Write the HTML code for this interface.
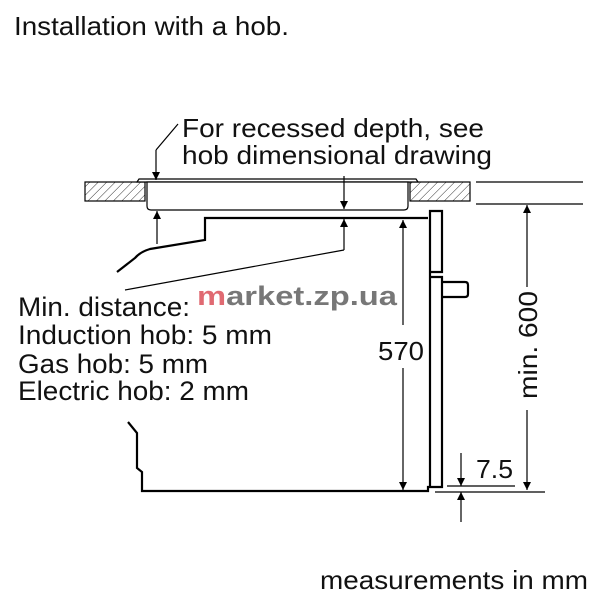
<!DOCTYPE html>
<html><head><style>
html,body{margin:0;padding:0;background:#fff;}
svg{display:block;}
text{font-family:"Liberation Sans",Arial,sans-serif;fill:#111;}
</style></head><body>
<svg width="600" height="600" viewBox="0 0 600 600" xmlns="http://www.w3.org/2000/svg">
<defs>
<pattern id="h" patternUnits="userSpaceOnUse" width="6" height="6" patternTransform="rotate(45)">
<line x1="0" y1="0" x2="0" y2="6" stroke="#333" stroke-width="1"/>
</pattern>
<marker id="a" viewBox="0 0 10 10" refX="10" refY="5" markerWidth="8" markerHeight="11" markerUnits="userSpaceOnUse" orient="auto">
<path d="M0,0 L10,5 L0,10 z" fill="#000"/>
</marker>
</defs>
<text x="14" y="35" font-size="26" textLength="275" lengthAdjust="spacingAndGlyphs">Installation with a hob.</text>
<text x="182" y="137" font-size="26" textLength="302" lengthAdjust="spacingAndGlyphs">For recessed depth, see</text>
<text x="182" y="164" font-size="26" textLength="310" lengthAdjust="spacingAndGlyphs">hob dimensional drawing</text>
<text x="18" y="316" font-size="27" textLength="172" lengthAdjust="spacingAndGlyphs">Min. distance:</text>
<text x="18" y="344" font-size="27" textLength="254" lengthAdjust="spacingAndGlyphs">Induction hob: 5 mm</text>
<text x="18" y="373" font-size="27" textLength="190" lengthAdjust="spacingAndGlyphs">Gas hob: 5 mm</text>
<text x="18" y="400" font-size="27" textLength="231" lengthAdjust="spacingAndGlyphs">Electric hob: 2 mm</text>
<text x="197" y="305" font-size="27" font-weight="bold" style="fill:#777" textLength="200" lengthAdjust="spacingAndGlyphs"><tspan style="fill:#e06a72">m</tspan>arket.zp.ua</text>
<text x="320" y="589" font-size="26" textLength="268" lengthAdjust="spacingAndGlyphs">measurements in mm</text>
<text x="378" y="360" font-size="26" textLength="46" lengthAdjust="spacingAndGlyphs">570</text>
<text x="476" y="478" font-size="26" textLength="37" lengthAdjust="spacingAndGlyphs">7.5</text>
<text transform="translate(537,399) rotate(-90)" font-size="26" textLength="108" lengthAdjust="spacingAndGlyphs">min. 600</text>

<g stroke="#000" fill="none" stroke-width="1.2">
<rect x="85" y="182" width="60" height="19" fill="url(#h)"/>
<rect x="410" y="182" width="60" height="19" fill="url(#h)"/>
<line x1="476" y1="182" x2="583" y2="182"/>
<line x1="476" y1="204" x2="583" y2="204"/>
<path d="M137,182 L139,179 L416,179 L418,182 Z" fill="#fff"/>
<path d="M147,182 L147,206 Q147,210 151,210 L404,210 Q408,210 408,206 L408,182 Z" fill="#fff"/>
</g>
<g stroke="#000" fill="none" stroke-width="2.2">
<path d="M428,218 L205,218 L205,240 L150,249 Q140,252 135,258 L117,272"/>
<path d="M128,422 L137,433 L137,468 L142,472 L142,491 L428,491 L428,487 L442,487 L442,277 L430,277 L430,272 L442,272 L442,211 L430,211 L430,487"/>
<path d="M442,282 L465,282 Q468,282 468,285 L468,294 Q468,297 465,297 L442,297"/>
</g>
<g stroke="#000" fill="none" stroke-width="1.2">
<line x1="178" y1="124" x2="156" y2="150"/>
<line x1="156" y1="150" x2="156" y2="180" marker-end="url(#a)"/>
<line x1="344" y1="176" x2="344" y2="209" marker-end="url(#a)"/>
<line x1="344" y1="250" x2="344" y2="219" marker-end="url(#a)"/>
<line x1="344" y1="250" x2="125" y2="290"/>
<line x1="157" y1="244" x2="157" y2="211" marker-end="url(#a)"/>
<line x1="403" y1="325" x2="403" y2="220" marker-end="url(#a)"/>
<line x1="403" y1="368" x2="403" y2="490" marker-end="url(#a)"/>
<line x1="527" y1="287" x2="527" y2="205" marker-end="url(#a)"/>
<line x1="527" y1="410" x2="527" y2="490" marker-end="url(#a)"/>
<line x1="447" y1="486" x2="515" y2="486"/>
<line x1="435" y1="492" x2="545" y2="492"/>
<line x1="461" y1="453" x2="461" y2="486" marker-end="url(#a)"/>
<line x1="461" y1="522" x2="461" y2="492" marker-end="url(#a)"/>
</g>
</svg>
</body></html>
